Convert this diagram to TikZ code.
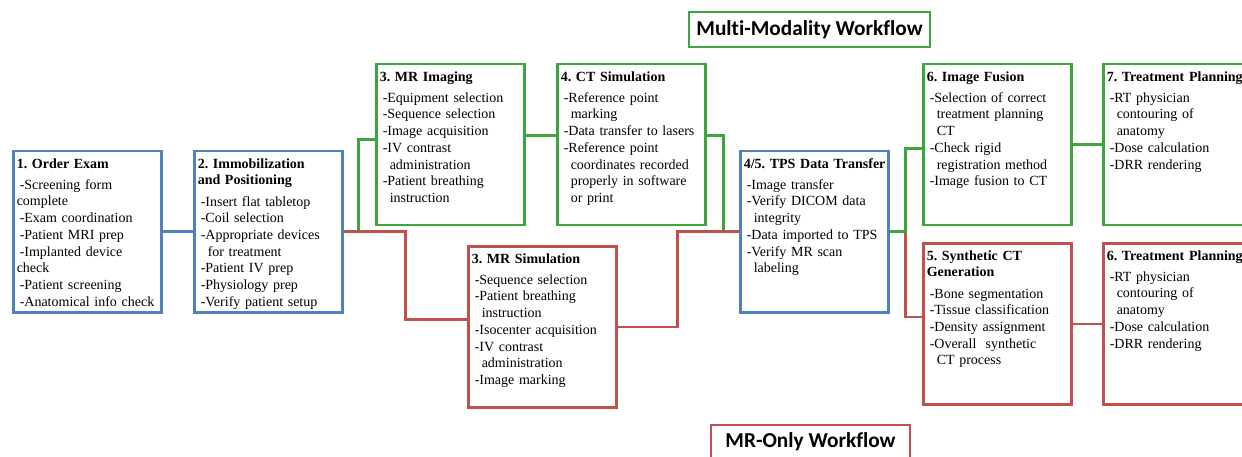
\documentclass[tikz,border=0pt]{standalone}
\usepackage{fontspec}
\setmainfont{Liberation Serif}
\newfontfamily\bannerfont[Ligatures=NoCommon]{Carlito}
\definecolor{wfblue}{HTML}{4F81BD}
\definecolor{wfgreen}{RGB}{60,165,60}
\definecolor{wfred}{HTML}{C0504D}
\newcommand{\wfi}{\hspace*{3pt}}
\newcommand{\wfc}{\hspace*{10pt}}
\frenchspacing
\begin{document}
\begin{tikzpicture}[x=1pt,y=-1pt]
\tikzstyle{stage}=[draw,line width=2.5pt,anchor=north west,inner xsep=3.5pt,inner ysep=7pt,
  text width=141pt,text height=10pt,text depth=137pt,align=left,
  font=\fontsize{14}{16.7}\selectfont]
\tikzstyle{banner}=[draw,line width=2.5pt,inner sep=0pt,
  font=\bannerfont\bfseries\fontsize{21.3}{24}\selectfont]
\tikzstyle{flow}=[line width=2.5pt]
\useasboundingbox (0,0) rectangle (1242,457);
% workflow headings
\node[banner,draw=wfgreen,minimum width=241pt,minimum height=35pt] (multi) at (809.5,29.5) {Multi-Modality Workflow};
\node[banner,draw=wfred,minimum width=199pt,minimum height=33pt] (mronly) at (810.5,441.5) {MR-Only Workflow};
% common steps
\node[stage,draw=wfblue] (exam) at (12,150) {\mbox{\textbf{1. Order Exam}}\\[4.3pt]
  \wfi-Screening form\\complete\\\wfi-Exam coordination\\\wfi-Patient MRI prep\\
  \wfi-Implanted device\\check\\\wfi-Patient screening\\\wfi-Anatomical info check};
\node[stage,draw=wfblue] (immob) at (193,150) {\textbf{2. Immobilization}\\\textbf{and Positioning}\\[4.5pt]
  \wfi-Insert flat tabletop\\\wfi-Coil selection\\\wfi-Appropriate devices\\\wfc for treatment\\
  \wfi-Patient IV prep\\\wfi-Physiology prep\\\wfi-Verify patient setup};
% multi-modality branch
\node[stage,draw=wfgreen] (mrimg) at (375,63) {\mbox{\textbf{3. MR Imaging}}\\[4.3pt]
  \wfi-Equipment selection\\\wfi-Sequence selection\\\wfi-Image acquisition\\\wfi-IV contrast\\
  \wfc administration\\\wfi-Patient breathing\\\wfc instruction};
\node[stage,draw=wfgreen] (ctsim) at (556,63) {\mbox{\textbf{4. CT Simulation}}\\[4.3pt]
  \wfi-Reference point\\\wfc marking\\\wfi-Data transfer to lasers\\\wfi-Reference point\\
  \wfc coordinates recorded\\\wfc properly in software\\\wfc or print};
% mr-only branch
\node[stage,draw=wfred] (mrsim) at (467,245) {\mbox{\textbf{3. MR Simulation}}\\[4.3pt]
  \wfi-Sequence selection\\\wfi-Patient breathing\\\wfc instruction\\\wfi-Isocenter acquisition\\
  \wfi-IV contrast\\\wfc administration\\\wfi-Image marking};
\node[stage,draw=wfblue] (tps) at (739,150) {\mbox{\textbf{4/5. TPS Data Transfer}}\\[4.3pt]
  \wfi-Image transfer\\\wfi-Verify DICOM data\\\wfc integrity\\\wfi-Data imported to TPS\\
  \wfi-Verify MR scan\\\wfc labeling};
\node[stage,draw=wfgreen] (fusion) at (922,63) {\mbox{\textbf{6. Image Fusion}}\\[4.3pt]
  \wfi-Selection of correct\\\wfc treatment planning\\\wfc CT\\\wfi-Check rigid\\
  \wfc registration method\\\wfi-Image fusion to CT};
\node[stage,draw=wfgreen] (plan7) at (1102,63) {\mbox{\textbf{7. Treatment Planning}}\\[4.3pt]
  \wfi-RT physician\\\wfc contouring of\\\wfc anatomy\\\wfi-Dose calculation\\\wfi-DRR rendering};
\node[stage,draw=wfred] (synct) at (922,242) {\textbf{5. Synthetic CT}\\\textbf{Generation}\\[4.5pt]
  \wfi-Bone segmentation\\\wfi-Tissue classification\\\wfi-Density assignment\\
  \wfi-Overall\ \ synthetic\\\wfc CT process};
\node[stage,draw=wfred] (plan6) at (1102,242) {\mbox{\textbf{6. Treatment Planning}}\\[4.3pt]
  \wfi-RT physician\\\wfc contouring of\\\wfc anatomy\\\wfi-Dose calculation\\\wfi-DRR rendering};
% connectors
\draw[flow,wfblue] (exam.east) -- (immob.west);
\draw[flow,wfgreen] (immob.east) ++(15,0) |- ([yshift=5pt]mrimg.west);
\draw[flow,wfred] (immob.east) -- ++(62,0) |- ([yshift=7.5pt]mrsim.west);
\draw[flow,wfgreen] ([yshift=9pt]mrimg.east) -- ([yshift=9pt]ctsim.west);
\draw[flow,wfgreen] ([yshift=9pt]ctsim.east) -- ++(17,0) |- (tps.west);
\draw[flow,wfred] (mrsim.east) -- ++(60,0) |- (tps.west);
\draw[flow,wfred] (tps.east) ++(16,0) |- ([yshift=7pt]synct.west);
\draw[flow,wfgreen] (tps.east) -- ++(16,0) |- ([yshift=-4pt]fusion.west);
\draw[flow,wfgreen] (fusion.east) -- (plan7.west);
\draw[flow,wfred] (synct.east) -- (plan6.west);
\end{tikzpicture}
\end{document}
